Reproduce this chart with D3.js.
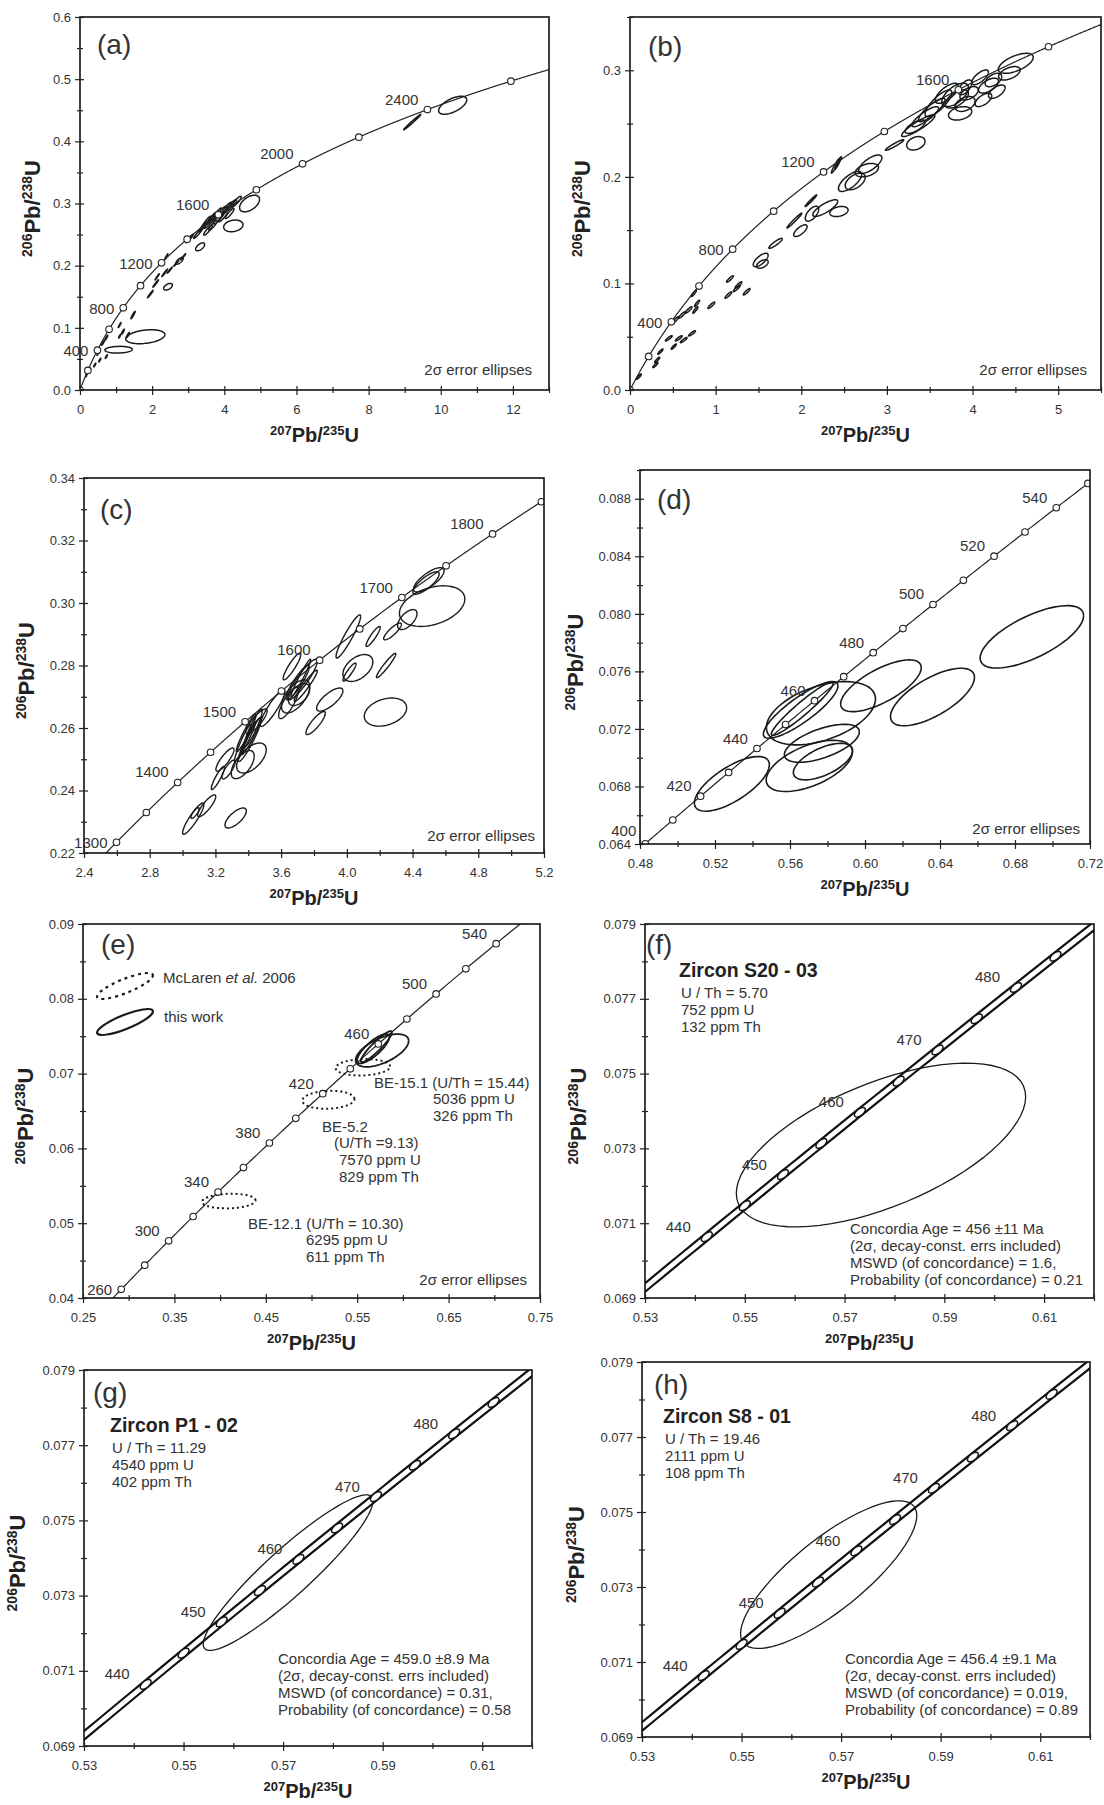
<!DOCTYPE html>
<html lang="en">
<head>
<meta charset="UTF-8">
<title>U-Pb concordia diagrams</title>
<script src="https://cdn.jsdelivr.net/npm/d3@7"></script>
<style>
    body { margin: 0; background: #fff; }
    svg { display: block; font-family: "Liberation Sans", Arial, sans-serif; }
    .tick text { font-size: 13px; fill: #333; }
    .tick line { stroke: #222; stroke-width: 1.2px; }
    .age { font-size: 15px; fill: #333; }
    .note { font-size: 15px; fill: #333; }
    .letter { font-size: 28px; fill: #333; }
    .title { font-size: 20px; font-weight: bold; fill: #222; }
    .ytitle { font-size: 22px; font-weight: bold; fill: #222; }
    .zircon { font-size: 19.5px; font-weight: bold; fill: #222; }
</style>
</head>
<body>
<svg id="fig" width="1104" height="1805"></svg>
<script>
// decay constants, per Ma
const L238 = 1.55125e-4, L235 = 9.8485e-4;

// ages of concordia markers and labelled ages
const agesA = [0, 200, 400, 600, 800, 1000, 1200, 1400, 1600, 1800, 2000, 2200, 2400, 2600];
const labelsA = [400, 800, 1200, 1600, 2000, 2400];
const agesB = [0, 200, 400, 600, 800, 1000, 1200, 1400, 1600, 1800];
const labelsB = [400, 800, 1200, 1600];
const agesC = [1300, 1350, 1400, 1450, 1500, 1550, 1600, 1650, 1700, 1750, 1800, 1850];
const labelsC = [1300, 1400, 1500, 1600, 1700, 1800];
const agesD = [400, 410, 420, 430, 440, 450, 460, 470, 480, 490, 500, 510, 520, 530, 540, 550];
const labelsD = [400, 420, 440, 460, 480, 500, 520, 540];
const agesE = [260, 280, 300, 320, 340, 360, 380, 400, 420, 440, 460, 480, 500, 520, 540];
const labelsE = [260, 300, 340, 380, 420, 460, 500, 540];
const agesZ = [440, 445, 450, 455, 460, 465, 470, 475, 480, 485];
const labelsZ = [440, 450, 460, 470, 480];

// tick values
const xTicksA = [0, 2, 4, 6, 8, 10, 12], xMinorA = [1, 3, 5, 7, 9, 11, 13];
const yTicksA = [0, 0.1, 0.2, 0.3, 0.4, 0.5, 0.6], yMinorA = [0.05, 0.15, 0.25, 0.35, 0.45, 0.55];
const xTicksB = [0, 1, 2, 3, 4, 5], xMinorB = [0.5, 1.5, 2.5, 3.5, 4.5, 5.5];
const yTicksB = [0, 0.1, 0.2, 0.3], yMinorB = [0.05, 0.15, 0.25, 0.35];
const xTicksC = [2.4, 2.8, 3.2, 3.6, 4.0, 4.4, 4.8, 5.2], xMinorC = [2.6, 3.0, 3.4, 3.8, 4.2, 4.6, 5.0];
const yTicksC = [0.22, 0.24, 0.26, 0.28, 0.30, 0.32, 0.34], yMinorC = [0.23, 0.25, 0.27, 0.29, 0.31, 0.33];
const xTicksD = [0.48, 0.52, 0.56, 0.60, 0.64, 0.68, 0.72], xMinorD = [0.50, 0.54, 0.58, 0.62, 0.66, 0.70];
const yTicksD = [0.064, 0.068, 0.072, 0.076, 0.080, 0.084, 0.088], yMinorD = [0.066, 0.070, 0.074, 0.078, 0.082, 0.086, 0.090];
const xTicksE = [0.25, 0.35, 0.45, 0.55, 0.65, 0.75], xMinorE = [0.30, 0.40, 0.50, 0.60, 0.70];
const yTicksE = [0.04, 0.05, 0.06, 0.07, 0.08, 0.09], yMinorE = [0.045, 0.055, 0.065, 0.075, 0.085];
const xTicksZ = [0.53, 0.55, 0.57, 0.59, 0.61], xMinorZ = [0.54, 0.56, 0.58, 0.60, 0.62];
const yTicksZ = [0.069, 0.071, 0.073, 0.075, 0.077, 0.079], yMinorZ = [0.070, 0.072, 0.074, 0.076, 0.078];

// error ellipses: [207/235, half-width, 206/238, half-height, rho]
const ellA = [
    [10.33, 0.39, 0.458, 0.0145, 0.6], [9.21, 0.24, 0.431, 0.0125, 0.99],
    [1.81, 0.545, 0.0857, 0.0112, 0.3], [1.07, 0.38, 0.0648, 0.0054, 0.1],
    [4.25, 0.268, 0.264, 0.0094, 0.2], [4.70, 0.277, 0.300, 0.0134, 0.5],
    [3.33, 0.125, 0.2303, 0.0064, 0.6], [2.44, 0.12, 0.1661, 0.0054, 0.5],
    [2.76, 0.10, 0.2078, 0.0054, 0.7],
    [1.47, 0.06, 0.1205, 0.006, 0.95], [1.95, 0.08, 0.1543, 0.006, 0.98],
    [2.10, 0.08, 0.1714, 0.006, 0.98], [2.35, 0.08, 0.1886, 0.006, 0.98],
    [2.49, 0.07, 0.1929, 0.005, 0.98], [2.67, 0.07, 0.2040, 0.005, 0.98],
    [2.86, 0.07, 0.2143, 0.005, 0.98], [2.39, 0.05, 0.2143, 0.005, 0.98],
    [2.14, 0.06, 0.1821, 0.005, 0.98],
    [3.04, 0.10, 0.2437, 0.007, 0.95], [3.27, 0.12, 0.2518, 0.008, 0.95],
    [3.41, 0.12, 0.2625, 0.008, 0.95], [3.50, 0.12, 0.2705, 0.009, 0.95],
    [3.64, 0.14, 0.2759, 0.010, 0.95], [3.78, 0.14, 0.2828, 0.010, 0.95],
    [3.92, 0.14, 0.2866, 0.009, 0.9], [4.06, 0.14, 0.2920, 0.010, 0.9],
    [4.20, 0.14, 0.2973, 0.009, 0.9], [4.33, 0.14, 0.3027, 0.009, 0.9],
    [3.69, 0.12, 0.2652, 0.008, 0.9], [3.55, 0.12, 0.2571, 0.008, 0.9],
    [3.96, 0.12, 0.2786, 0.008, 0.9], [4.15, 0.12, 0.2839, 0.008, 0.9],
    [3.60, 0.16, 0.2700, 0.010, 0.95], [3.85, 0.15, 0.2770, 0.010, 0.9],
    [1.10, 0.04, 0.1045, 0.004, 0.95], [1.19, 0.04, 0.0938, 0.004, 0.9],
    [1.33, 0.04, 0.0884, 0.004, 0.9], [1.10, 0.03, 0.0866, 0.003, 0.9],
    [0.73, 0.04, 0.0839, 0.004, 0.95], [0.64, 0.04, 0.0759, 0.004, 0.95],
    [0.50, 0.03, 0.0589, 0.003, 0.9], [0.55, 0.03, 0.0482, 0.003, 0.9],
    [0.73, 0.03, 0.0536, 0.003, 0.9], [0.27, 0.03, 0.0321, 0.003, 0.9],
    [0.41, 0.03, 0.0402, 0.003, 0.9], [0.18, 0.02, 0.0241, 0.003, 0.9]
];
const ellB = [
    [4.505, 0.204, 0.3065, 0.0094, 0.6], [4.43, 0.126, 0.2972, 0.0063, 0.5],
    [4.088, 0.097, 0.2934, 0.0069, 0.7], [4.186, 0.117, 0.2856, 0.0070, 0.6],
    [4.244, 0.097, 0.2909, 0.0063, 0.5], [4.283, 0.097, 0.2799, 0.0063, 0.6],
    [4.127, 0.097, 0.2722, 0.0063, 0.6], [3.855, 0.136, 0.2596, 0.0063, 0.3],
    [3.913, 0.117, 0.2684, 0.0070, 0.4], [3.960, 0.107, 0.2784, 0.0063, 0.5],
    [3.700, 0.136, 0.2784, 0.0094, 0.7], [3.797, 0.156, 0.2769, 0.0110, 0.6],
    [3.602, 0.156, 0.2690, 0.0125, 0.8], [3.524, 0.156, 0.2628, 0.0110, 0.85],
    [3.816, 0.136, 0.2731, 0.0086, 0.6], [3.913, 0.078, 0.2840, 0.0070, 0.6],
    [3.366, 0.194, 0.2480, 0.0102, 0.9], [3.330, 0.117, 0.2471, 0.0063, 0.7],
    [3.447, 0.156, 0.2565, 0.0094, 0.85], [3.338, 0.107, 0.2315, 0.0063, 0.3],
    [3.090, 0.107, 0.2299, 0.0050, 0.95], [2.400, 0.049, 0.2104, 0.0069, 0.95],
    [2.430, 0.040, 0.2130, 0.0060, 0.95], [2.805, 0.136, 0.2119, 0.0086, 0.7],
    [2.766, 0.136, 0.2063, 0.0063, 0.4], [2.570, 0.136, 0.1957, 0.0094, 0.7],
    [2.630, 0.117, 0.1957, 0.0078, 0.5], [2.113, 0.068, 0.1776, 0.0055, 0.98],
    [2.440, 0.107, 0.1675, 0.0047, 0.3], [2.280, 0.146, 0.1707, 0.0078, 0.8],
    [2.125, 0.078, 0.1654, 0.0070, 0.6], [1.920, 0.087, 0.1590, 0.0070, 0.98],
    [1.990, 0.078, 0.1495, 0.0055, 0.7], [1.700, 0.078, 0.1376, 0.0047, 0.9],
    [1.526, 0.087, 0.1220, 0.0063, 0.7], [1.546, 0.068, 0.1182, 0.0040, 0.5],
    [1.168, 0.040, 0.1042, 0.0030, 0.9], [1.149, 0.040, 0.0891, 0.0030, 0.9],
    [1.247, 0.040, 0.0954, 0.0030, 0.9], [1.363, 0.040, 0.0922, 0.0030, 0.9],
    [1.266, 0.040, 0.0985, 0.0030, 0.9], [0.950, 0.040, 0.0795, 0.0030, 0.9],
    [0.745, 0.030, 0.0907, 0.0030, 0.9], [0.783, 0.030, 0.0813, 0.0030, 0.9],
    [0.764, 0.030, 0.0751, 0.0030, 0.9], [0.530, 0.040, 0.0657, 0.0030, 0.9],
    [0.608, 0.040, 0.0704, 0.0030, 0.9], [0.685, 0.040, 0.0751, 0.0030, 0.9],
    [0.453, 0.040, 0.0485, 0.0025, 0.9], [0.570, 0.040, 0.0485, 0.0025, 0.9],
    [0.628, 0.040, 0.0469, 0.0025, 0.9], [0.725, 0.040, 0.0532, 0.0025, 0.9],
    [0.511, 0.030, 0.0407, 0.0025, 0.9], [0.355, 0.030, 0.0360, 0.0025, 0.9],
    [0.317, 0.030, 0.0282, 0.0025, 0.9], [0.297, 0.030, 0.0235, 0.0025, 0.9],
    [0.103, 0.030, 0.0125, 0.0025, 0.9]
];
const ellC = [
    [4.519, 0.199, 0.2990, 0.0065, 0.35], [4.499, 0.093, 0.3074, 0.0039, 0.75],
    [4.482, 0.080, 0.3064, 0.0036, 0.80], [4.368, 0.059, 0.2947, 0.0032, 0.60],
    [4.278, 0.054, 0.2909, 0.0027, 0.85], [4.160, 0.043, 0.2893, 0.0032, 0.90],
    [4.009, 0.075, 0.2893, 0.0069, 0.93], [4.067, 0.091, 0.2792, 0.0043, 0.45],
    [4.016, 0.040, 0.2779, 0.0029, 0.90], [4.239, 0.059, 0.2800, 0.0039, 0.95],
    [4.235, 0.129, 0.2651, 0.0045, 0.30], [3.896, 0.080, 0.2691, 0.0037, 0.75],
    [3.810, 0.059, 0.2616, 0.0037, 0.85], [3.666, 0.054, 0.2797, 0.0043, 0.90],
    [3.730, 0.090, 0.2755, 0.0065, 0.90], [3.750, 0.070, 0.2735, 0.0050, 0.95],
    [3.688, 0.086, 0.2701, 0.0053, 0.60], [3.645, 0.060, 0.2680, 0.0050, 0.80],
    [3.709, 0.065, 0.2707, 0.0035, 0.50], [3.548, 0.075, 0.2664, 0.0059, 0.90],
    [3.450, 0.065, 0.2621, 0.0040, 0.85], [3.387, 0.060, 0.2584, 0.0060, 0.95],
    [3.409, 0.070, 0.2563, 0.0070, 0.93], [3.366, 0.050, 0.2552, 0.0060, 0.95],
    [3.430, 0.055, 0.2600, 0.0060, 0.92], [3.419, 0.090, 0.2504, 0.0048, 0.55],
    [3.366, 0.070, 0.2483, 0.0045, 0.60], [3.258, 0.055, 0.2499, 0.0037, 0.85],
    [3.280, 0.040, 0.2467, 0.0030, 0.80], [3.215, 0.040, 0.2440, 0.0037, 0.90],
    [3.147, 0.055, 0.2351, 0.0035, 0.85], [3.065, 0.065, 0.2310, 0.0050, 0.90],
    [3.076, 0.025, 0.2328, 0.0017, 0.80], [3.323, 0.065, 0.2312, 0.0032, 0.70],
    [3.720, 0.060, 0.2760, 0.0060, 0.97], [3.700, 0.070, 0.2745, 0.0055, 0.90],
    [3.400, 0.045, 0.2570, 0.0050, 0.97], [3.420, 0.060, 0.2575, 0.0060, 0.96]
];
const ellD = [
    [0.689, 0.0276, 0.0784, 0.00217, 0.68], [0.636, 0.0224, 0.07422, 0.0020, 0.68],
    [0.6085, 0.0215, 0.0750, 0.0018, 0.70], [0.5765, 0.0291, 0.07309, 0.0022, 0.45],
    [0.5703, 0.023, 0.06943, 0.00178, 0.55], [0.5776, 0.0158, 0.06973, 0.00127, 0.60],
    [0.577, 0.020, 0.0710, 0.00132, 0.60], [0.5657, 0.0199, 0.07332, 0.00197, 0.85],
    [0.5665, 0.0165, 0.07340, 0.00185, 0.95], [0.5290, 0.0200, 0.06818, 0.0019, 0.70]
];
// McLaren et al. 2006 spots (dotted)
const ellMcLaren = [
    [0.4095, 0.0293, 0.05296, 0.00098, 0.1],
    [0.5185, 0.0285, 0.0665, 0.0012, 0.1],
    [0.5562, 0.0298, 0.07085, 0.0011, 0.1]
];
const ellF = [[0.5773, 0.0290, 0.07309, 0.00219, 0.59]];
const ellG = [[0.5710, 0.01706, 0.07361, 0.00207, 0.92]];
const ellH = [[0.5675, 0.0177, 0.07333, 0.00197, 0.80]];

// text blocks
const noteE15 = ["BE-15.1 (U/Th = 15.44)", "5036 ppm U", "326 ppm Th"];
const noteE5 = ["BE-5.2", "(U/Th =9.13)", "7570 ppm U", "829 ppm Th"];
const noteE12 = ["BE-12.1 (U/Th = 10.30)", "6295 ppm U", "611 ppm Th"];
const zirconF = ["Zircon S20 - 03", "U / Th = 5.70", "752 ppm U", "132 ppm Th"];
const zirconG = ["Zircon P1 - 02", "U / Th = 11.29", "4540 ppm U", "402 ppm Th"];
const zirconH = ["Zircon S8 - 01", "U / Th = 19.46", "2111 ppm U", "108 ppm Th"];
const concF = ["Concordia Age = 456 \u00b111 Ma", "(2\u03c3, decay-const. errs included)",
    "MSWD (of concordance) = 1.6,", "Probability (of concordance) = 0.21"];
const concG = ["Concordia Age = 459.0 \u00b18.9 Ma", "(2\u03c3, decay-const. errs included)",
    "MSWD (of concordance) = 0.31,", "Probability (of concordance) = 0.58"];
const concH = ["Concordia Age = 456.4 \u00b19.1 Ma", "(2\u03c3, decay-const. errs included)",
    "MSWD (of concordance) = 0.019,", "Probability (of concordance) = 0.89"];

const svg = d3.select("#fig");

function concX(t) { return Math.exp(L235 * t) - 1; }
function concY(t) { return Math.exp(L238 * t) - 1; }

// points round an error ellipse, in data units
function ellPts(e) {
    const [cx, sx, cy, sy, r] = e;
    const k = Math.sqrt(1 - r * r);
    return d3.range(0, 73).map(i => {
        const a = i / 72 * 2 * Math.PI;
        return [cx + sx * Math.cos(a), cy + sy * (r * Math.cos(a) + k * Math.sin(a))];
    });
}

// layout of the eight panels
const panels = [
    {id: "a", box: [80, 17, 549, 390], xDom: [0, 13], yDom: [0, 0.6],
     xt: xTicksA, xm: xMinorA, yt: yTicksA, ym: yMinorA, xf: "d", yf: ".1f",
     t: [0, 2800], ages: agesA, labels: labelsA, low: [400, 800, 1200], ell: ellA, ellW: 1.5,
     letter: [97, 54], yTitleX: 40, note: [532, 375]},
    {id: "b", box: [630, 17, 1101, 390], xDom: [0, 5.5], yDom: [0, 0.35],
     xt: xTicksB, xm: xMinorB, yt: yTicksB, ym: yMinorB, xf: "d", yf: ".1f",
     t: [0, 2000], ages: agesB, labels: labelsB, low: [400, 800], ell: ellB, ellW: 1.5,
     letter: [648, 56], yTitleX: 590, note: [1087, 375]},
    {id: "c", box: [84, 478, 544, 853], xDom: [2.4, 5.2], yDom: [0.22, 0.34],
     xt: xTicksC, xm: xMinorC, yt: yTicksC, ym: yMinorC, xf: ".1f", yf: ".2f",
     t: [1200, 1900], ages: agesC, labels: labelsC, low: [1300], ell: ellC, ellW: 1.4,
     letter: [100, 519], yTitleX: 34, note: [535, 841]},
    {id: "d", box: [640, 470, 1090, 844], xDom: [0.48, 0.72], yDom: [0.064, 0.090],
     xt: xTicksD, xm: xMinorD, yt: yTicksD, ym: yMinorD, xf: ".2f", yf: ".3f",
     t: [380, 570], ages: agesD, labels: labelsD, low: [], high: [400], ell: ellD, ellW: 1.6,
     letter: [657, 509], yTitleX: 583, note: [1080, 834]},
    {id: "e", box: [83, 924, 540, 1298], xDom: [0.25, 0.75], yDom: [0.04, 0.09],
     xt: xTicksE, xm: xMinorE, yt: yTicksE, ym: yMinorE, xf: ".2f", yf: ".2f",
     t: [200, 580], ages: agesE, labels: labelsE, low: [260], ell: [], ellW: 1.8,
     letter: [101, 954], yTitleX: 33, note: [527, 1285]},
    {id: "f", box: [645, 924, 1094, 1298], xDom: [0.53, 0.62], yDom: [0.069, 0.079],
     xt: xTicksZ, xm: xMinorZ, yt: yTicksZ, ym: yMinorZ, xf: ".2f", yf: ".3f",
     t: [420, 500], ages: agesZ, labels: labelsZ, low: [], ell: ellF, ellW: 1.3, band: true,
     letter: [646, 954], yTitleX: 586, zircon: zirconF, zPos: [679, 977], conc: concF, cPos: [850, 1234]},
    {id: "g", box: [84, 1370, 532, 1746], xDom: [0.53, 0.62], yDom: [0.069, 0.079],
     xt: xTicksZ, xm: xMinorZ, yt: yTicksZ, ym: yMinorZ, xf: ".2f", yf: ".3f",
     t: [420, 500], ages: agesZ, labels: labelsZ, low: [], ell: ellG, ellW: 1.3, band: true,
     letter: [93, 1402], yTitleX: 25, zircon: zirconG, zPos: [110, 1432], conc: concG, cPos: [278, 1664]},
    {id: "h", box: [642, 1362, 1090, 1737], xDom: [0.53, 0.62], yDom: [0.069, 0.079],
     xt: xTicksZ, xm: xMinorZ, yt: yTicksZ, ym: yMinorZ, xf: ".2f", yf: ".3f",
     t: [420, 500], ages: agesZ, labels: labelsZ, low: [], ell: ellH, ellW: 1.3, band: true,
     letter: [654, 1394], yTitleX: 584, zircon: zirconH, zPos: [663, 1423], conc: concH, cPos: [845, 1664]}
];

function drawPanel(p) {
    const [x0, y0, x1, y1] = p.box;
    const x = d3.scaleLinear().domain(p.xDom).range([x0, x1]);
    const y = d3.scaleLinear().domain(p.yDom).range([y1, y0]);
    const g = svg.append("g").attr("class", "panel-" + p.id);

    g.append("clipPath").attr("id", "clip-" + p.id)
        .append("rect").attr("x", x0).attr("y", y0).attr("width", x1 - x0).attr("height", y1 - y0);
    const plot = g.append("g").attr("clip-path", "url(#clip-" + p.id + ")");

    const line = d3.line().x(d => x(d[0])).y(d => y(d[1]));
    const ts = d3.range(p.t[0], p.t[1] + 0.1, 1);

    // ellipses first, concordia drawn over them
    plot.selectAll("path.ell").data(p.ell).enter().append("path")
        .attr("class", "ell")
        .attr("d", d => line(ellPts(d)))
        .attr("fill", "none").attr("stroke", "#1a1a1a").attr("stroke-width", p.ellW);

    if (p.id === "e") {
        plot.selectAll("path.mc").data(ellMcLaren).enter().append("path")
            .attr("d", d => line(ellPts(d)))
            .attr("fill", "none").attr("stroke", "#1a1a1a").attr("stroke-width", 2)
            .attr("stroke-dasharray", "2,3");
        plot.selectAll("path.tw").data([ellF[0], ellG[0], ellH[0]]).enter().append("path")
            .attr("d", d => line(ellPts(d)))
            .attr("fill", "none").attr("stroke", "#1a1a1a").attr("stroke-width", 1.8);
    }

    if (p.band) {
        const off = 0.000116;
        [off, -off].forEach(o => {
            plot.append("path")
                .attr("d", line(ts.map(t => [concX(t), concY(t) + o])))
                .attr("fill", "none").attr("stroke", "#111").attr("stroke-width", 2.2);
        });
        plot.selectAll("ellipse.mk").data(p.ages).enter().append("ellipse")
            .attr("transform", t => {
                const ang = Math.atan2(y(concY(t + 1)) - y(concY(t)), x(concX(t + 1)) - x(concX(t))) * 180 / Math.PI;
                return "translate(" + x(concX(t)) + "," + y(concY(t)) + ") rotate(" + ang + ")";
            })
            .attr("rx", 6.5).attr("ry", 3.4)
            .attr("fill", "#fff").attr("stroke", "#111").attr("stroke-width", 1.5);
    } else {
        plot.append("path")
            .attr("d", line(ts.map(t => [concX(t), concY(t)])))
            .attr("fill", "none").attr("stroke", "#222").attr("stroke-width", 1.2);
        plot.selectAll("circle.mk").data(p.ages).enter().append("circle")
            .attr("cx", t => x(concX(t))).attr("cy", t => y(concY(t)))
            .attr("r", 3.3).attr("fill", "#fff").attr("stroke", "#222").attr("stroke-width", 1.1);
    }

    // age labels
    const dx = p.band ? -16 : -9;
    const high = p.high || [];
    g.selectAll("text.age").data(p.labels).enter().append("text")
        .attr("class", "age")
        .attr("text-anchor", "end")
        .attr("x", t => x(concX(t)) + dx)
        .attr("y", t => y(concY(t)) + (p.low.includes(t) ? 6 : high.includes(t) ? -8 : -5))
        .text(t => t);

    // frame
    g.append("rect").attr("x", x0).attr("y", y0).attr("width", x1 - x0).attr("height", y1 - y0)
        .attr("fill", "none").attr("stroke", "#111").attr("stroke-width", 1.6);

    // axes with ticks crossing the frame
    const xa = g.append("g").attr("transform", "translate(0," + y1 + ")")
        .call(d3.axisBottom(x).tickValues(p.xt).tickSize(5).tickFormat(d3.format(p.xf)));
    xa.select(".domain").remove();
    xa.selectAll(".tick line").attr("y1", -4);
    xa.selectAll(".tick text").attr("y", 14.8).attr("dy", "0.71em");
    const xm = g.append("g").attr("transform", "translate(0," + y1 + ")")
        .call(d3.axisBottom(x).tickValues(p.xm).tickSize(3).tickFormat(""));
    xm.select(".domain").remove();
    xm.selectAll(".tick line").attr("y1", -3);
    xm.selectAll(".tick text").remove();

    const ya = g.append("g").attr("transform", "translate(" + x0 + ",0)")
        .call(d3.axisLeft(y).tickValues(p.yt).tickSize(5).tickFormat(d3.format(p.yf)));
    ya.select(".domain").remove();
    ya.selectAll(".tick line").attr("x1", 4);
    ya.selectAll(".tick text").attr("x", -9);
    const ym = g.append("g").attr("transform", "translate(" + x0 + ",0)")
        .call(d3.axisLeft(y).tickValues(p.ym).tickSize(3).tickFormat(""));
    ym.select(".domain").remove();
    ym.selectAll(".tick line").attr("x1", 3);
    ym.selectAll(".tick text").remove();
    g.selectAll(".tick text").attr("font-family", null).attr("font-size", null);

    // axis titles
    const xt = g.append("text").attr("class", "title").attr("text-anchor", "middle")
        .attr("x", (x0 + x1) / 2).attr("y", y1 + 52);
    xt.append("tspan").attr("font-size", 13).attr("dy", -7).text("207");
    xt.append("tspan").attr("dy", 7).text("Pb/");
    xt.append("tspan").attr("font-size", 13).attr("dy", -7).text("235");
    xt.append("tspan").attr("dy", 7).text("U");

    const yt = g.append("text").attr("class", "ytitle").attr("text-anchor", "middle")
        .attr("transform", "translate(" + p.yTitleX + "," + ((y0 + y1) / 2 + 5) + ") rotate(-90)");
    yt.append("tspan").attr("font-size", 14).attr("dy", -8).text("206");
    yt.append("tspan").attr("dy", 8).text("Pb/");
    yt.append("tspan").attr("font-size", 14).attr("dy", -8).text("238");
    yt.append("tspan").attr("dy", 8).text("U");

    g.append("text").attr("class", "letter").attr("x", p.letter[0]).attr("y", p.letter[1])
        .text("(" + p.id + ")");

    if (p.note) {
        g.append("text").attr("class", "note").attr("text-anchor", "end")
            .attr("x", p.note[0]).attr("y", p.note[1]).text("2\u03c3 error ellipses");
    }

    if (p.zircon) {
        g.append("text").attr("class", "zircon").attr("x", p.zPos[0]).attr("y", p.zPos[1])
            .text(p.zircon[0]);
        p.zircon.slice(1).forEach((s, i) => {
            g.append("text").attr("class", "note").attr("x", p.zPos[0] + 2)
                .attr("y", p.zPos[1] + 21 + i * 17).text(s);
        });
        p.conc.forEach((s, i) => {
            g.append("text").attr("class", "note").attr("x", p.cPos[0])
                .attr("y", p.cPos[1] + i * 17).text(s);
        });
    }
    return {x, y, g};
}

const drawn = panels.map(drawPanel);

// panel e: legend and spot annotations
const ge = drawn[4].g;
ge.append("ellipse").attr("transform", "translate(125,986) rotate(-22)")
    .attr("rx", 30).attr("ry", 7).attr("fill", "none").attr("stroke", "#1a1a1a")
    .attr("stroke-width", 2.2).attr("stroke-dasharray", "3,4");
ge.append("ellipse").attr("transform", "translate(125,1022) rotate(-22)")
    .attr("rx", 30).attr("ry", 7).attr("fill", "none").attr("stroke", "#1a1a1a")
    .attr("stroke-width", 2.2);
const leg1 = ge.append("text").attr("class", "note").attr("x", 163).attr("y", 983);
leg1.append("tspan").text("McLaren ");
leg1.append("tspan").attr("font-style", "italic").text("et al.");
leg1.append("tspan").text(" 2006");
ge.append("text").attr("class", "note").attr("x", 164).attr("y", 1022).text("this work");

function block(lines, xs, ys) {
    lines.forEach((s, i) => {
        ge.append("text").attr("class", "note").attr("x", xs[i]).attr("y", ys[i]).text(s);
    });
}
block(noteE15, [374, 433, 433], [1088, 1104, 1121]);
block(noteE5, [322, 334, 339, 339], [1132, 1148, 1165, 1182]);
block(noteE12, [248, 306, 306], [1229, 1245, 1262]);
</script>
</body>
</html>
